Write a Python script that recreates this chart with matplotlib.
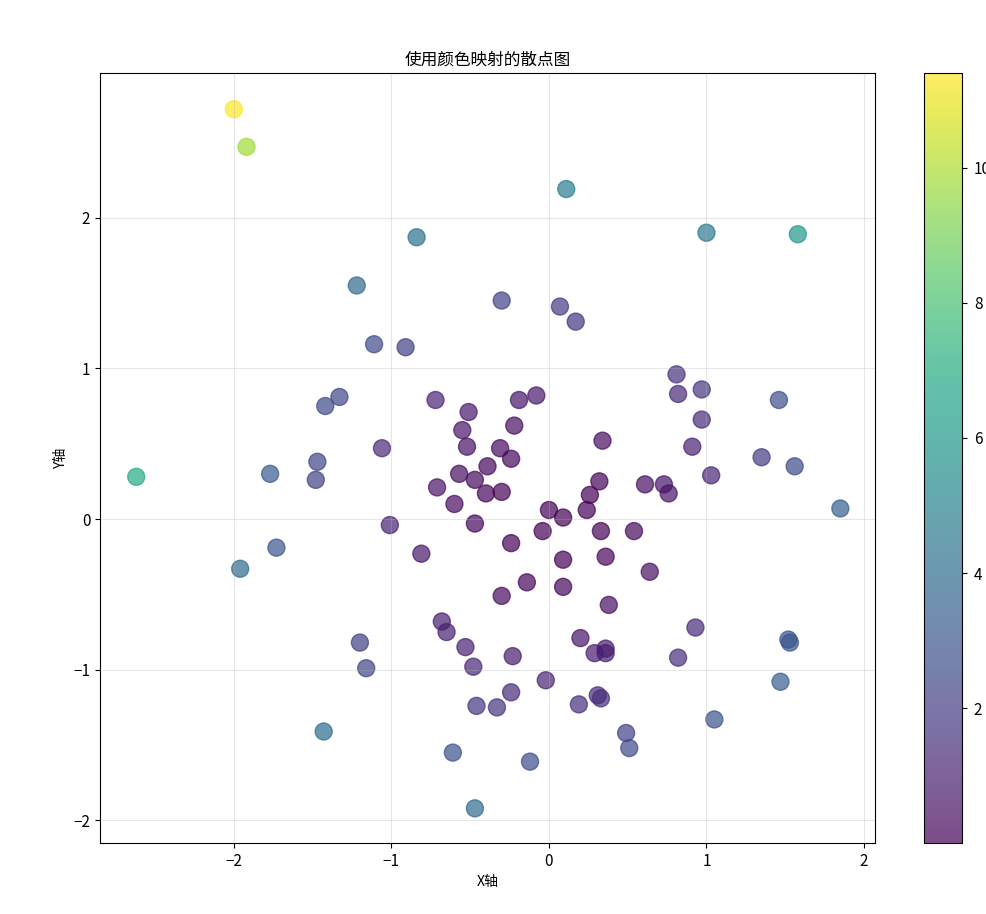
import matplotlib
matplotlib.use('Agg')
import matplotlib.pyplot as plt
import numpy as np

plt.rcParams['font.family'] = ['Noto Sans CJK SC', 'DejaVu Sans']
plt.rcParams['axes.unicode_minus'] = True

# 点坐标
x = [-0.72, -0.51, -0.55, -0.52, -0.19, -0.08, -0.22, -0.31, -0.24, -0.39,
     -0.57, -0.47, -0.71, -0.40, -0.30, -0.60, -0.47, -0.81, -0.24, 0.00,
     0.09, -0.04, 0.34, 0.32, 0.26, 0.24, 0.61, 0.73, 0.76, 0.33,
     0.54, 0.09, 0.36, 0.64, -0.14, -0.30, 0.09, 0.38, -0.68, -0.65,
     0.11, 1.00, 1.58, -0.30, 0.07, 0.17, 0.81, 0.82, 0.97, 1.46,
     0.97, 0.91, 1.35, 1.56, 1.03, 1.85,
     -2.00, -1.92, -0.84, -1.22, -1.11, -0.91, -1.33, -1.42, -1.06,
     -2.62, -1.77, -1.47, -1.48, -1.01, -1.73, -1.96, -1.20, -1.16, -1.43,
     -0.53, -0.48, -0.46, -0.33, -0.61, -0.47, -0.12, -0.24, -0.23, -0.02,
     0.19, 0.31, 0.33, 0.49, 0.51, 1.05, 1.47, 1.52, 1.53, 0.93,
     0.82, 0.20, 0.29, 0.36, 0.36]
y = [0.79, 0.71, 0.59, 0.48, 0.79, 0.82, 0.62, 0.47, 0.40, 0.35,
     0.30, 0.26, 0.21, 0.17, 0.18, 0.10, -0.03, -0.23, -0.16, 0.06,
     0.01, -0.08, 0.52, 0.25, 0.16, 0.06, 0.23, 0.23, 0.17, -0.08,
     -0.08, -0.27, -0.25, -0.35, -0.42, -0.51, -0.45, -0.57, -0.68, -0.75,
     2.19, 1.90, 1.89, 1.45, 1.41, 1.31, 0.96, 0.83, 0.86, 0.79,
     0.66, 0.48, 0.41, 0.35, 0.29, 0.07,
     2.72, 2.47, 1.87, 1.55, 1.16, 1.14, 0.81, 0.75, 0.47,
     0.28, 0.30, 0.38, 0.26, -0.04, -0.19, -0.33, -0.82, -0.99, -1.41,
     -0.85, -0.98, -1.24, -1.25, -1.55, -1.92, -1.61, -1.15, -0.91, -1.07,
     -1.23, -1.17, -1.19, -1.42, -1.52, -1.33, -1.08, -0.80, -0.82, -0.72,
     -0.92, -0.79, -0.89, -0.86, -0.89]
# 颜色值 (估计)
colors = [1.14, 0.76, 0.65, 0.50, 0.66, 0.68, 0.43, 0.32, 0.22, 0.27,
          0.41, 0.29, 0.55, 0.19, 0.12, 0.37, 0.22, 0.71, 0.08, 0.004,
          0.008, 0.008, 0.39, 0.16, 0.09, 0.06, 0.43, 0.59, 0.61, 0.12,
          0.30, 0.08, 0.19, 0.53, 0.20, 0.35, 0.21, 0.47, 0.92, 0.99,
          4.81, 4.61, 6.07, 2.19, 1.99, 1.75, 1.58, 1.36, 1.68, 2.76,
          1.38, 1.06, 1.99, 2.56, 1.15, 3.43,
          11.40, 9.79, 4.20, 3.89, 2.58, 2.13, 2.43, 2.58, 1.34,
          6.94, 3.22, 2.31, 2.26, 1.02, 3.03, 3.95, 2.11, 2.33, 4.03,
          1.00, 1.19, 1.75, 1.67, 2.77, 3.91, 2.61, 1.38, 0.88, 1.15,
          1.55, 1.47, 1.53, 2.26, 2.57, 2.87, 3.33, 2.95, 3.01, 1.38,
          1.52, 0.66, 0.88, 0.87, 0.92]

fig = plt.figure(figsize=(9.87, 9.14), dpi=100)
ax = fig.add_axes([100 / 987, 71 / 914, 775 / 987, 770 / 914])
cax = fig.add_axes([924 / 987, 71 / 914, 38 / 987, 770 / 914])

sc = ax.scatter(x, y, c=colors, cmap='viridis', s=150, alpha=0.7)
cb = fig.colorbar(sc, cax=cax)
cb.set_ticks([2, 4, 6, 8, 10])
cax.tick_params(labelsize=11, pad=5)

ax.set_xlim(-2.85, 2.07)
ax.set_ylim(-2.15, 2.96)
ax.set_xticks([-2, -1, 0, 1, 2])
ax.set_yticks([-2, -1, 0, 1, 2])
ax.tick_params(labelsize=11)
ax.grid(True, alpha=0.3)
ax.set_title('使用颜色映射的散点图', fontsize=12)
ax.set_xlabel('X轴')
ax.set_ylabel('Y轴')

fig.savefig('out.png', dpi=100)
